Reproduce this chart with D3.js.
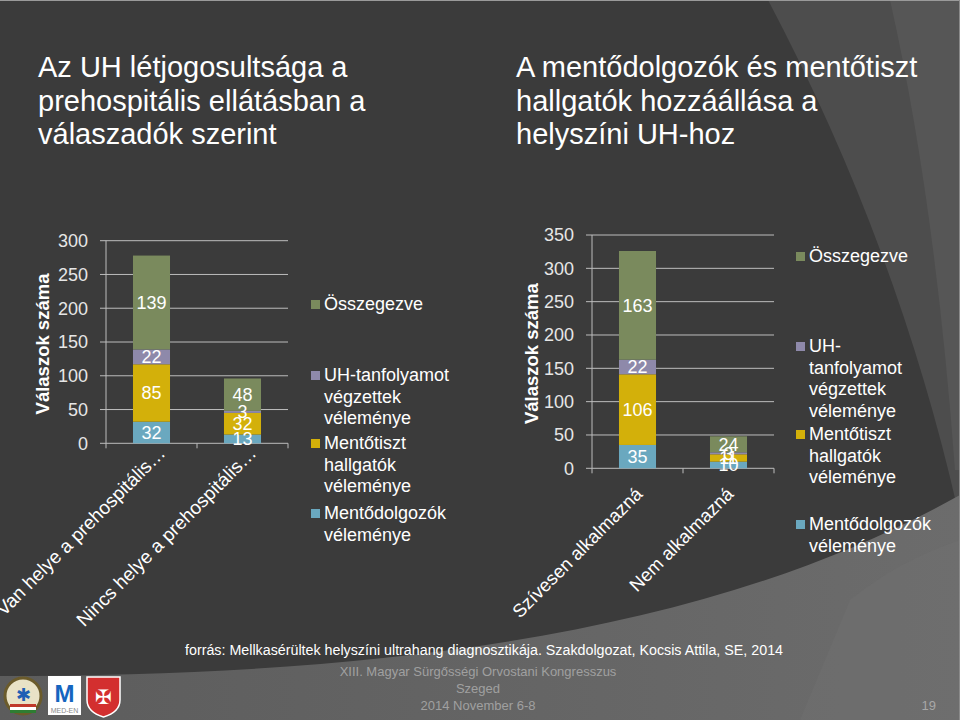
<!DOCTYPE html>
<html>
<head>
<meta charset="utf-8">
<script src="https://cdn.jsdelivr.net/npm/d3@7"></script>
<style>
  html, body { margin: 0; padding: 0; background: #3b3b3b; }
  svg { display: block; font-family: "Liberation Sans", Arial, sans-serif; }
</style>
</head>
<body>
<svg id="slide" width="960" height="720"></svg>
<script>
// ---------------- DATA ----------------
const seriesKeys = ["Mentődolgozók", "Mentőtiszt", "UH", "Összegezve"];
const seriesColors = ["#6aa8bf", "#d3b00a", "#8e89aa", "#7a8a5d"];

const categoriesLeft = ["Van helye a prehospitális…", "Nincs helye a prehospitális…"];
const mentodolgozokLeft = [32, 13];
const mentotisztLeft = [85, 32];
const uhLeft = [22, 3];
const osszegezveLeft = [139, 48];
const ticksLeft = [0, 50, 100, 150, 200, 250, 300];

const categoriesRight = ["Szívesen alkalmazná", "Nem alkalmazná"];
const mentodolgozokRight = [35, 10];
const mentotisztRight = [106, 11];
const uhRight = [22, 3];
const osszegezveRight = [163, 24];
const ticksRight = [0, 50, 100, 150, 200, 250, 300, 350];

const legendLinesLeft = [
  ["Összegezve"],
  ["UH-tanfolyamot", "végzettek", "véleménye"],
  ["Mentőtiszt", "hallgatók", "véleménye"],
  ["Mentődolgozók", "véleménye"]
];
const legendLinesRight = [
  ["Összegezve"],
  ["UH-", "tanfolyamot", "végzettek", "véleménye"],
  ["Mentőtiszt", "hallgatók", "véleménye"],
  ["Mentődolgozók", "véleménye"]
];
const legendColorIndex = [3, 2, 1, 0];

const titleLeft = ["Az UH létjogosultsága a", "prehospitális ellátásban a", "válaszadók szerint"];
const titleRight = ["A mentődolgozók és mentőtiszt", "hallgatók hozzáállása a", "helyszíni UH-hoz"];
const axisTitle = "Válaszok száma";
const sourceText = "forrás:  Mellkasérültek helyszíni ultrahang diagnosztikája. Szakdolgozat, Kocsis Attila, SE, 2014";
const footerLines = ["XIII. Magyar Sürgősségi Orvostani Kongresszus", "Szeged", "2014 November 6-8"];
const pageNumber = "19";

// ---------------- DRAW ----------------
const svg = d3.select("#slide");

// background
const defs = svg.append("defs");
const g1 = defs.append("linearGradient").attr("id", "bottomGrad").attr("x1", "0").attr("x2", "1").attr("y1", "0").attr("y2", "0");
g1.append("stop").attr("offset", "0").attr("stop-color", "#5c5c5c");
g1.append("stop").attr("offset", "1").attr("stop-color", "#6c6c6c");

svg.append("rect").attr("width", 960).attr("height", 720).attr("fill", "#3b3b3b");
svg.append("path").attr("d", "M768,0 Q900,250 960,520 L960,0 Z").attr("fill", "#4d4d4d");
svg.append("path").attr("d", "M890,0 Q935,200 955,470 L960,470 L960,0 Z").attr("fill", "#565656");
svg.append("path").attr("d", "M0,676 C400,676 720,630 960,495 L960,720 L0,720 Z").attr("fill", "url(#bottomGrad)");
svg.append("path").attr("d", "M850,600 Q900,560 960,540 L960,720 L800,720 Z").attr("fill", "#707070").attr("opacity", 0.5);
svg.append("line").attr("x1", 0).attr("x2", 960).attr("y1", 0.5).attr("y2", 0.5).attr("stroke", "#9a9a9a");
svg.append("line").attr("x1", 959.5).attr("x2", 959.5).attr("y1", 0).attr("y2", 720).attr("stroke", "#8a8a8a");

// titles
function drawTitle(lines, x) {
  const t = svg.append("text").attr("x", x).attr("y", 77)
    .attr("fill", "#ffffff").attr("font-size", 29);
  lines.forEach((l, i) => t.append("tspan").attr("x", x).attr("dy", i === 0 ? 0 : 33.5).text(l));
}
drawTitle(titleLeft, 38);
drawTitle(titleRight, 516);

function drawChart(cfg) {
  const data = cfg.categories.map((c, i) => ({
    cat: c,
    "Mentődolgozók": cfg.s0[i],
    "Mentőtiszt": cfg.s1[i],
    "UH": cfg.s2[i],
    "Összegezve": cfg.s3[i]
  }));
  const x = d3.scaleBand().domain(cfg.categories).range([cfg.x0, cfg.x1])
    .paddingInner(0.593).paddingOuter(0.2965);
  const xOuter = d3.scaleBand().domain(cfg.categories).range([cfg.x0, cfg.x1]);
  const y = d3.scaleLinear().domain([0, cfg.max]).range([cfg.y0, cfg.y1]);
  const g = svg.append("g");

  // gridlines
  g.selectAll("line.grid").data(cfg.ticks).join("line")
    .attr("x1", cfg.x0 - 6).attr("x2", cfg.x1)
    .attr("y1", d => y(d)).attr("y2", d => y(d))
    .attr("stroke", "#bdbdbd").attr("stroke-width", 1);
  // y axis line
  g.append("line").attr("x1", cfg.x0).attr("x2", cfg.x0)
    .attr("y1", y(cfg.max)).attr("y2", y(0)).attr("stroke", "#bdbdbd");
  // x axis tick marks at band boundaries
  const bounds = [cfg.x0].concat(cfg.categories.map(c => xOuter(c) + xOuter.bandwidth()));
  g.selectAll("line.xt").data(bounds).join("line")
    .attr("x1", d => d).attr("x2", d => d)
    .attr("y1", y(0)).attr("y2", y(0) + 5).attr("stroke", "#bdbdbd");
  // tick labels
  g.selectAll("text.yt").data(cfg.ticks).join("text")
    .attr("x", cfg.x0 - 18).attr("y", d => y(d)).attr("dy", "0.36em")
    .attr("text-anchor", "end").attr("fill", "#e6e6e6").attr("font-size", 18)
    .text(d => d);
  // axis title
  g.append("text").attr("transform", `translate(${cfg.titleX},${(y(0) + y(cfg.max)) / 2 + 2}) rotate(-90)`)
    .attr("text-anchor", "middle").attr("dy", "0.35em").attr("fill", "#ffffff")
    .attr("font-size", 18.5).attr("font-weight", "bold").text(axisTitle);

  // stacked bars
  const stack = d3.stack().keys(seriesKeys)(data);
  stack.forEach((layer, li) => {
    g.selectAll(null).data(layer).join("rect")
      .attr("x", d => x(d.data.cat)).attr("width", x.bandwidth())
      .attr("y", d => y(d[1])).attr("height", d => y(d[0]) - y(d[1]))
      .attr("fill", seriesColors[li]);
  });
  stack.forEach((layer) => {
    g.selectAll(null).data(layer).join("text")
      .attr("x", d => x(d.data.cat) + x.bandwidth() / 2)
      .attr("y", d => (y(d[0]) + y(d[1])) / 2).attr("dy", "0.36em")
      .attr("text-anchor", "middle").attr("fill", "#ffffff").attr("font-size", 18)
      .text(d => d[1] - d[0]);
  });

  // category labels
  g.selectAll("text.cat").data(cfg.categories).join("text")
    .attr("transform", d => `translate(${xOuter(d) + xOuter.bandwidth() / 2 + cfg.labDx},${y(0) + cfg.labDy}) rotate(-45)`)
    .attr("text-anchor", "end").attr("fill", "#ffffff").attr("font-size", cfg.labSize)
    .text(d => d);

  // legend
  const lg = svg.append("g");
  cfg.legend.forEach((lines, i) => {
    const by = cfg.legendY[i];
    lg.append("rect").attr("x", cfg.legendX).attr("y", by - 10).attr("width", 9).attr("height", 9)
      .attr("fill", seriesColors[legendColorIndex[i]]);
    const t = lg.append("text").attr("x", cfg.legendX + 13).attr("y", by)
      .attr("fill", "#ffffff").attr("font-size", 18);
    lines.forEach((l, j) => t.append("tspan").attr("x", cfg.legendX + 13).attr("dy", j === 0 ? 0 : 21.5).text(l));
  });
}

drawChart({
  categories: categoriesLeft, s0: mentodolgozokLeft, s1: mentotisztLeft, s2: uhLeft, s3: osszegezveLeft,
  ticks: ticksLeft, max: 300, x0: 106, x1: 288, y0: 443.3, y1: 240.7, titleX: 43,
  labDx: 15, labDy: 11, labSize: 19, legend: legendLinesLeft, legendX: 311, legendY: [310, 381, 449, 519]
});
drawChart({
  categories: categoriesRight, s0: mentodolgozokRight, s1: mentotisztRight, s2: uhRight, s3: osszegezveRight,
  ticks: ticksRight, max: 350, x0: 592, x1: 774, y0: 468.3, y1: 235, titleX: 532,
  labDx: 6, labDy: 27, labSize: 18.5, legend: legendLinesRight, legendX: 796, legendY: [262, 352, 440, 530]
});

// footer
svg.append("text").attr("x", 185).attr("y", 655).attr("fill", "#ffffff").attr("font-size", 14)
  .attr("textLength", 598).attr("lengthAdjust", "spacingAndGlyphs").text(sourceText);
footerLines.forEach((l, i) => {
  svg.append("text").attr("x", 478).attr("y", 676 + i * 17).attr("text-anchor", "middle")
    .attr("fill", "#a0a0a0").attr("font-size", 13).text(l);
});
svg.append("text").attr("x", 936).attr("y", 710).attr("text-anchor", "end")
  .attr("fill", "#a8a8a8").attr("font-size", 13).text(pageNumber);

// logos (simple)
const lo = svg.append("g");
lo.append("circle").attr("cx", 23).attr("cy", 696).attr("r", 18).attr("fill", "#e9e2c6").attr("stroke", "#6b5b2b").attr("stroke-width", 3);
lo.append("rect").attr("x", 10).attr("y", 704).attr("width", 26).attr("height", 3).attr("fill", "#c0392b");
lo.append("rect").attr("x", 10).attr("y", 707).attr("width", 26).attr("height", 3).attr("fill", "#ffffff");
lo.append("rect").attr("x", 10).attr("y", 710).attr("width", 26).attr("height", 3).attr("fill", "#2e7d32");
lo.append("text").attr("x", 23).attr("y", 701).attr("text-anchor", "middle").attr("font-size", 18).attr("fill", "#1f5fb4").text("✱");
lo.append("rect").attr("x", 48).attr("y", 676).attr("width", 33).attr("height", 39).attr("fill", "#ffffff");
lo.append("text").attr("x", 64.5).attr("y", 702).attr("text-anchor", "middle").attr("font-size", 24).attr("font-weight", "bold").attr("fill", "#1565c0").text("M");
lo.append("text").attr("x", 64.5).attr("y", 713).attr("text-anchor", "middle").attr("font-size", 7).attr("fill", "#8a8a8a").text("MED-EN");
lo.append("path").attr("d", "M87,677 L120,677 L120,700 Q120,712 103.5,717 Q87,712 87,700 Z").attr("fill", "#d32f2f").attr("stroke", "#ffffff").attr("stroke-width", 1.5);
lo.append("text").attr("x", 103.5).attr("y", 704).attr("text-anchor", "middle").attr("font-size", 20).attr("fill", "#ffffff").text("✠");
</script>
</body>
</html>
